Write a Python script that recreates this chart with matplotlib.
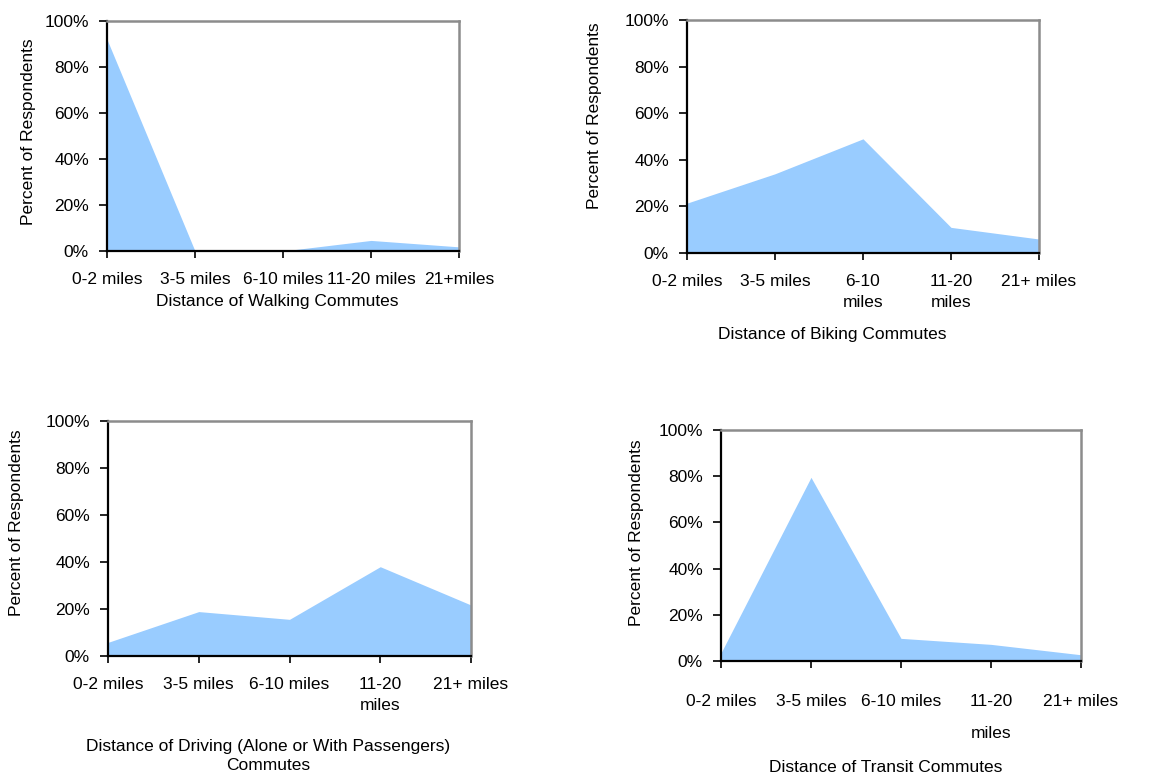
import numpy as np
import matplotlib
matplotlib.use("Agg")
import matplotlib.pyplot as plt
from matplotlib.ticker import FuncFormatter

plt.rcParams['font.family'] = ['Liberation Sans', 'DejaVu Sans']

W, H = 1176, 780

# values (percent of respondents)
walk_vals = [92, 0, 0, 4.6, 1.8]
bike_vals = [21.4, 34, 49, 11, 6]
drive_vals = [5.8, 18.9, 15.6, 38, 21.7]
transit_vals = [3.5, 79.5, 9.8, 7.2, 2.7]

walk_labels = ["0-2 miles", "3-5 miles", "6-10 miles", "11-20 miles", "21+miles"]
bike_labels = ["0-2 miles", "3-5 miles", "6-10\nmiles", "11-20\nmiles", "21+ miles"]
drive_labels = ["0-2 miles", "3-5 miles", "6-10 miles", "11-20\nmiles", "21+ miles"]
transit_labels = ["0-2 miles", "3-5 miles", "6-10 miles", "11-20\nmiles", "21+ miles"]

y_ticks = [0, 20, 40, 60, 80, 100]
fill_col = '#99CCFF'


def px_rect(l, t, r, b):
    return [l / W, 1 - b / H, (r - l) / W, (b - t) / H]


def panel(rect, vals, labels, xtitle, xtitle_pos, ylab_pos, xpad=10, lsp=1.5):
    ax = fig.add_axes(px_rect(*rect))
    x = np.arange(len(vals))
    ax.fill_between(x, vals, 0, color=fill_col, linewidth=0)
    ax.set_xlim(0, len(vals) - 1)
    ax.set_ylim(0, 100)
    ax.set_yticks(y_ticks)
    ax.yaxis.set_major_formatter(FuncFormatter(lambda v, p: "%d%%" % v))
    ax.set_xticks(x)
    ax.set_xticklabels(labels, linespacing=lsp)
    ax.tick_params(axis='y', length=6, width=1.2, pad=7, labelsize=12.5)
    ax.tick_params(axis='x', length=5, width=1.2, pad=xpad, labelsize=12.5)
    for s in ['left', 'bottom']:
        ax.spines[s].set_color('black')
        ax.spines[s].set_linewidth(1.6)
    for s in ['top', 'right']:
        ax.spines[s].set_color('#8c8c8c')
        ax.spines[s].set_linewidth(1.8)
    fig.text(xtitle_pos[0] / W, 1 - xtitle_pos[1] / H, xtitle, ha='center', va='center',
             fontsize=12.5, linespacing=1.3)
    fig.text(ylab_pos[0] / W, 1 - ylab_pos[1] / H, "Percent of Respondents", rotation=90,
             ha='center', va='center', fontsize=12.5)
    return ax


fig = plt.figure(figsize=(W / 100, H / 100), dpi=100)

panel((107, 21, 459, 251), walk_vals, walk_labels, "Distance of Walking Commutes",
      (277, 302), (29, 132))
panel((687, 20, 1039, 253), bike_vals, bike_labels, "Distance of Biking Commutes",
      (832, 335), (595, 116))
panel((108, 421, 471, 656), drive_vals, drive_labels,
      "Distance of Driving (Alone or With Passengers)\nCommutes", (268, 756), (17, 523))
panel((721, 430, 1081, 661), transit_vals, transit_labels, "Distance of Transit Commutes",
      (886, 768), (637, 533), xpad=19, lsp=2.4)

fig.savefig("out.png", dpi=100)
